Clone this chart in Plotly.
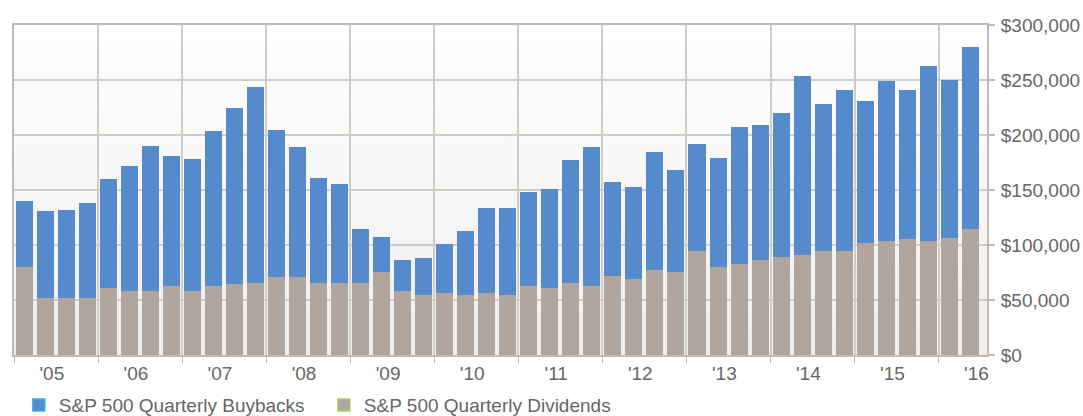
import plotly.graph_objects as go

# ---- data (values in $ millions, quarterly from Q1 2005 to Q2 2016) ----
year_labels = ["'05", "'06", "'07", "'08", "'09", "'10", "'11", "'12",
               "'13", "'14", "'15", "'16"]

dividends = [80, 52, 52, 52, 61, 58, 58, 63, 58, 63, 64.5, 65.5,
             71, 71, 65.5, 65.5, 65.5, 75.5, 58, 54.5, 56.5, 54.5, 56.5, 54.5,
             63, 61, 65.5, 63, 72, 69, 77, 75.5, 94.5, 80, 82.5, 86.5,
             89, 91, 94.5, 94.5, 102, 103.5, 105.5, 103.5, 106.5, 114.5]

buybacks = [60, 79, 80, 86, 99, 114, 132, 118, 120, 141, 160, 178,
            134, 118, 95, 90, 49, 32, 28, 34, 44, 58, 77, 79,
            85, 90, 112, 126, 85.5, 83.5, 108, 93, 97, 99, 125, 123,
            131, 163, 134, 146, 129, 145.5, 135.5, 159, 143.5, 165.5]

dividends = [v * 1000 for v in dividends]
buybacks = [v * 1000 for v in buybacks]

BLUE = "#558bca"
GREY = "#b0a69e"
TEXT = "#666666"
GRID = "#d2ccc6"
FRAME = "#c2bab3"

xs = list(range(len(dividends)))
n_years = len(year_labels)
label_pos = [4 * k + 1.3 for k in range(n_years)]
grid_pos = [4 * k - 0.5 for k in range(n_years)]

fig = go.Figure()
fig.add_trace(go.Bar(x=xs, y=dividends, name="S&P 500 Quarterly Dividends",
                     marker=dict(color=GREY, line=dict(width=0)), showlegend=False))
fig.add_trace(go.Bar(x=xs, y=buybacks, name="S&P 500 Quarterly Buybacks",
                     marker=dict(color=BLUE, line=dict(width=0)), showlegend=False))
# legend entries (with coloured borders as in the original legend)
fig.add_trace(go.Bar(x=[None], y=[None], name="S&P 500 Quarterly Buybacks",
                     marker=dict(color=BLUE, line=dict(color="#3aaee6", width=1.5))))
fig.add_trace(go.Bar(x=[None], y=[None], name="S&P 500 Quarterly Dividends",
                     marker=dict(color=GREY, line=dict(color="#a6d25a", width=1.5))))

grad_svg = ("data:image/svg+xml;utf8,"
            "<svg xmlns='http://www.w3.org/2000/svg' width='10' height='100' preserveAspectRatio='none'>"
            "<defs><linearGradient id='g' x1='0' y1='0' x2='0' y2='1'>"
            "<stop offset='0' stop-color='%23ffffff'/><stop offset='1' stop-color='%23eeeeee'/>"
            "</linearGradient></defs><rect width='10' height='100' fill='url(%23g)'/></svg>")

fig.update_layout(
    width=1083, height=416,
    margin=dict(l=14, r=96, t=25, b=61, autoexpand=False),
    paper_bgcolor="white",
    plot_bgcolor="rgba(0,0,0,0)",
    barmode="stack",
    bargap=0.19,
    font=dict(family="Arial, Liberation Sans, sans-serif", size=19, color=TEXT),
    showlegend=True,
    legend=dict(orientation="h", x=0.005, xanchor="left", y=-0.152, yanchor="middle",
                font=dict(size=19, color=TEXT), traceorder="normal",
                entrywidth=260, entrywidthmode="pixels",
                itemclick=False, bgcolor="rgba(0,0,0,0)"),
    images=[dict(source=grad_svg, xref="paper", yref="paper", x=0, y=1,
                 sizex=1, sizey=1, xanchor="left", yanchor="top",
                 sizing="stretch", layer="below")],
    xaxis=dict(range=[-0.5, 45.8], tickmode="array", tickvals=label_pos,
               ticktext=year_labels, ticks="", showgrid=False, zeroline=False,
               showline=True, linecolor=FRAME, linewidth=2, mirror=True,
               automargin=False, ticklabelstandoff=0,
               minor=dict(tickmode="array", tickvals=grid_pos, ticks="outside",
                          ticklen=6, tickcolor=FRAME, tickwidth=1,
                          showgrid=True, gridcolor=GRID, gridwidth=1.5),
               fixedrange=True),
    yaxis=dict(side="right", range=[0, 300000], tickmode="array",
               tickvals=[0, 50000, 100000, 150000, 200000, 250000, 300000],
               tickformat="$,.0f", ticks="outside", ticklen=6, tickcolor=FRAME,
               tickwidth=1.5, showgrid=True, gridcolor=GRID, gridwidth=2,
               zeroline=False, showline=True, linecolor=FRAME, linewidth=2,
               mirror=True, fixedrange=True, automargin=False,
               ticklabelstandoff=2),
)

fig.write_html("out.html",
               config={"displayModeBar": False},
               post_script="document.body.style.margin='0';"
                           "document.body.style.overflow='hidden';")
